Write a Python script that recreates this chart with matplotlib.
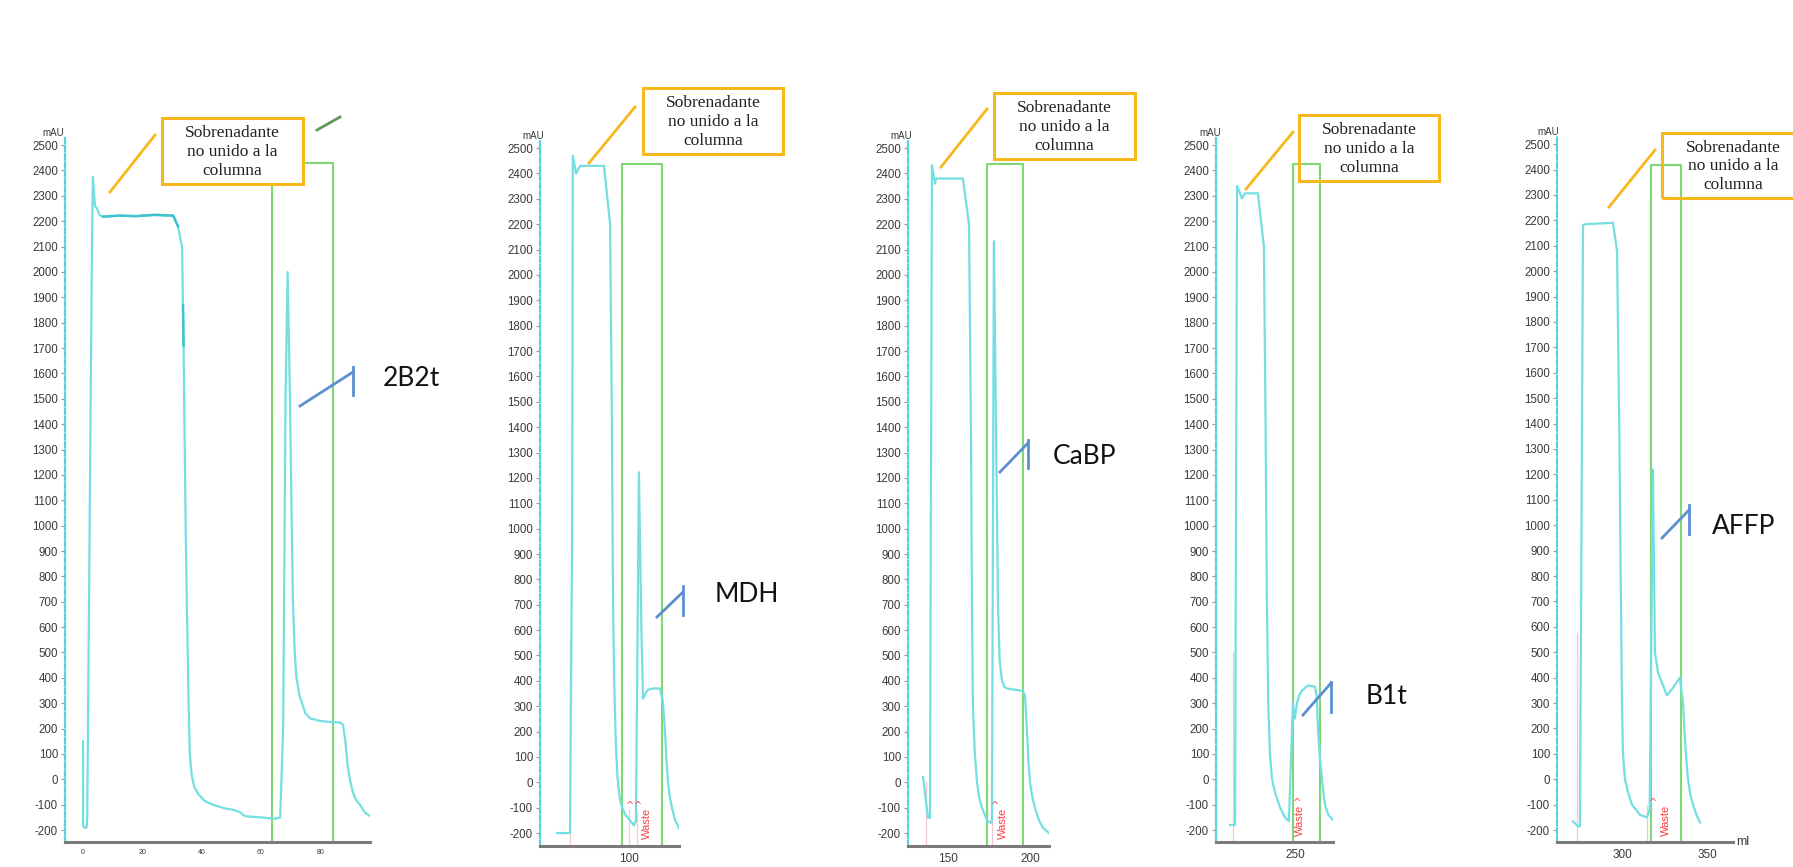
import matplotlib
matplotlib.use("Agg")
import matplotlib.pyplot as plt
from matplotlib.patches import Rectangle
from matplotlib.lines import Line2D

# ---------------- data: UV 280 nm traces (ml, mAU) ----------------
p1_ml = [0, 0, 0.3, 1.2, 1.4, 2.0, 3.0, 3.3, 4.0, 4.7,
         5.5, 6.7, 12, 18, 24, 30.4, 32.0, 33.0, 33.4, 33.7,
         33.9, 34.2, 34.6, 35.0, 35.6, 36.0, 36.6, 37.5, 39.0, 41.0,
         43.8, 48.0, 50.6, 53.0, 54.6, 59.7, 64.7, 66.5, 67.5, 68.3,
         69.0, 69.8, 70.4, 70.8, 71.4, 72.0, 73.0, 73.9, 75.0, 76.6,
         80.0, 84.3, 86.0, 87.0, 87.7, 88.5, 89.2, 90.0, 91.0, 92.0,
         93.4, 95.0, 96.8]
p1_mau = [150, -180, -190, -190, -150, 700, 2100, 2374, 2260, 2250,
          2225, 2218, 2222, 2220, 2225, 2222, 2180, 2120, 2100, 1870,
          1710, 1400, 1000, 700, 300, 100, 20, -30, -60, -85,
          -100, -115, -120, -130, -145, -150, -155, -150, 200, 1500,
          2000, 1500, 1000, 700, 500, 400, 330, 300, 260, 240,
          230, 225, 225, 222, 215, 150, 60, 0, -50, -80,
          -100, -130, -145]
p1_frac = (63.7, 84.3)

p2_ml = [56.4, 64.2, 65.5, 65.9, 67.9, 70.3, 84.8, 88.5, 89.5, 90.3,
         91.0, 92.0, 93.0, 94.3, 95.8, 98.0, 100.6, 103.0, 104.2, 106.0,
         107.5, 108.5, 110.0, 111.5, 114.5, 118.8, 120.5, 121.8, 122.7, 123.6,
         124.8, 126.0, 128.0, 130.3]
p2_mau = [-200, -200, 1000, 2470, 2400, 2430, 2430, 2200, 1500, 700,
          400, 150, 20, -60, -100, -130, -150, -170, -150, 1222,
          600, 330, 350, 365, 370, 370, 320, 200, 90, 0,
          -60, -100, -150, -180]
p2_frac = (95.8, 120.0)

p3_ml = [134.8, 137.8, 139.0, 140.2, 142.0, 142.7, 159.1, 162.8, 164.0, 164.6,
         165.2, 166.3, 167.7, 169.0, 170.7, 173.8, 176.2, 176.8, 178.0, 180.5,
         181.5, 182.9, 184.5, 186.0, 195.7, 197.0, 198.2, 199.0, 200.0, 201.5,
         203.0, 205.5, 208.0, 211.6]
p3_mau = [20, -140, -140, 2433, 2360, 2380, 2380, 2200, 1400, 700,
          300, 120, 0, -60, -100, -150, -160, -150, 2133, 700,
          480, 400, 375, 370, 360, 340, 200, 90, 0, -60,
          -100, -150, -180, -200]
p3_frac = (173.8, 195.7)

p4_ml = [211.1, 214.1, 215.3, 218.3, 220.1, 227.8, 231.4, 232.4, 233.2, 234.0,
         235.0, 236.3, 238.0, 241.0, 244.0, 246.4, 248.8, 250.0, 251.2, 252.5,
         254.2, 257.8, 262.0, 263.0, 263.8, 265.0, 266.2, 267.0, 268.0, 270.0,
         272.8]
p4_mau = [-180, -180, 2338, 2290, 2310, 2310, 2100, 1400, 700, 300,
          100, 0, -50, -110, -150, -165, 300, 240, 300, 330,
          350, 370, 365, 330, 200, 80, 0, -50, -100, -140,
          -160]
p4_frac = (248.8, 265.0)

p5_ml = [271.2, 274.1, 275.3, 277.1, 278.5, 294.7, 297.1, 298.4, 299.4, 300.0,
         300.6, 301.8, 303.5, 305.9, 310.6, 314.7, 316.3, 318.2, 319.4, 321.2,
         323.5, 326.5, 330.0, 334.1, 335.9, 337.4, 338.8, 340.2, 341.8, 343.8,
         345.9]
p5_mau = [-166, -185, -185, 2181, 2185, 2190, 2080, 1400, 700, 300,
          100, 0, -50, -100, -140, -150, -120, 1219, 500, 420,
          380, 330, 360, 400, 300, 120, 0, -60, -100, -140,
          -170]
p5_frac = (317.1, 334.7)

y_ticks = list(range(-200, 2501, 100))
x_ticks = [[0, 20, 40, 60, 80], [100], [150, 200], [250], [300, 350]]
protein_labels = ["2B2t", "MDH", "CaBP", "B1t", "AFFP"]
flowthrough_text = "Sobrenadante\nno unido a la\ncolumna"

# ---------------- figure ----------------
W, H = 1793, 867
fig = plt.figure(figsize=(W / 100, H / 100), dpi=100)
fig.patch.set_facecolor("white")


def fx(x):
    return x / W


def fy(y):
    return 1 - y / H


TRACE = "#74dfe2"
TRACE_DARK = "#3fc3cf"
FRAC = "#7fd873"
PINK = "#f6c6cf"
RED = "#ff3d3d"
BOX = "#f6b81c"
CALL = "#5b8fcf"

# per panel: pixel box (x0, x1, ytop, ybot), x limits, y limits
panels = [
    dict(px=(65, 370, 138, 842), xlim=(-6.1, 96.8), ylim=(-247, 2528),
         ml=p1_ml, mau=p1_mau, frac=p1_frac, top=2430, ticks=x_ticks[0], tsize=5),
    dict(px=(540, 679, 141, 846), xlim=(46.0, 130.3), ylim=(-251, 2528),
         ml=p2_ml, mau=p2_mau, frac=p2_frac, top=2437, ticks=x_ticks[1], tsize=8.5),
    dict(px=(908, 1049, 141, 846), xlim=(125.6, 211.6), ylim=(-251, 2528),
         ml=p3_ml, mau=p3_mau, frac=p3_frac, top=2437, ticks=x_ticks[2], tsize=8.5),
    dict(px=(1216, 1333, 138, 842), xlim=(202.7, 272.8), ylim=(-247, 2528),
         ml=p4_ml, mau=p4_mau, frac=p4_frac, top=2425, ticks=x_ticks[3], tsize=8.5),
    dict(px=(1557, 1733, 137, 842), xlim=(261.8, 365.3), ylim=(-247, 2528),
         ml=p5_ml, mau=p5_mau, frac=p5_frac, top=2417, ticks=x_ticks[4], tsize=8.5),
]

axes = []
for i, p in enumerate(panels):
    x0, x1, yt, yb = p["px"]
    ax = fig.add_axes([fx(x0), fy(yb), (x1 - x0) / W, (yb - yt) / H])
    ax.set_xlim(*p["xlim"])
    ax.set_ylim(*p["ylim"])
    ax.patch.set_alpha(0)
    for s in ("top", "right"):
        ax.spines[s].set_visible(False)
    ax.spines["left"].set_color("#52d3dd")
    ax.spines["left"].set_linestyle((0, (2.5, 1.2)))
    ax.spines["left"].set_linewidth(1.6)
    ax.spines["bottom"].set_color("#7a7a7a")
    ax.spines["bottom"].set_linewidth(2.2)
    ax.set_yticks(y_ticks)
    ax.set_yticklabels([str(v) for v in y_ticks])
    ax.tick_params(axis="y", length=3, width=0.8, color="#999999", pad=2,
                   labelsize=8.3, labelcolor="#3a3a3a")
    ax.set_xticks(p["ticks"])
    ax.tick_params(axis="x", length=0, pad=5, labelsize=p["tsize"], labelcolor="#3a3a3a")
    for lab in ax.get_yticklabels() + ax.get_xticklabels():
        lab.set_fontfamily("Liberation Sans")
    ax.text(-0.05 if i else -0.04, 1.0, "mAU", transform=ax.transAxes, ha="center",
            va="bottom", fontsize=7, color="#3a3a3a", family="Liberation Sans")

    # fraction window
    a, b = p["frac"]
    yb0 = p["ylim"][0]
    ax.plot([a, a, b, b], [yb0, p["top"], p["top"], yb0], color=FRAC, lw=1.5,
            clip_on=False, zorder=2)
    # UV trace
    ax.plot(p["ml"], p["mau"], color=TRACE, lw=1.6, zorder=3, solid_joinstyle="round")
    axes.append(ax)

# darker plateau of the first run
ax1 = axes[0]
ax1.plot(p1_ml[11:17], p1_mau[11:17], color=TRACE_DARK, lw=1.8, zorder=4)
ax1.plot(p1_ml[19:21], p1_mau[19:21], color=TRACE_DARK, lw=1.8, zorder=4)

# faint injection / fraction marks
pink_marks = {1: [(64.0, -251, 570), (100.0, -251, -110), (104.8, -251, -120)],
              2: [(136.6, -251, 0), (176.8, -251, -110)],
              3: [(212.9, -247, 500)],
              4: [(273.5, -247, 577), (314.7, -247, -100)]}
for i, marks in pink_marks.items():
    for xm, y0, y1 in marks:
        axes[i].plot([xm, xm], [y0, y1], color=PINK, lw=0.9, zorder=1)

# waste markers
waste = {1: ([100.5, 105.7], 111.0), 2: ([178.5], 183.5), 3: ([251.5], 253.0),
         4: ([318.5], 326.0)}
for i, (carets, wx) in waste.items():
    ax = axes[i]
    for c in carets:
        ax.text(c, -95, "^", color=RED, fontsize=7, ha="center", va="center",
                family="DejaVu Sans")
    ax.text(wx, -225, "Waste", color=RED, fontsize=8, rotation=90, ha="center",
            va="bottom", family="Liberation Sans")

# volume unit on last panel
axes[4].text(1.02, 0.0, "ml", transform=axes[4].transAxes, ha="left", va="center",
             fontsize=9, color="#3a3a3a", family="Liberation Sans")

# ---------------- flow-through callouts ----------------
boxes = [(162, 303, 118, 184, (110, 192), (155, 135), True),
         (643, 783, 88, 154, (589, 163), (635, 107), True),
         (994, 1135, 93, 159, (941, 167), (987, 109), True),
         (1299, 1439, 115, 181, (1246, 189), (1293, 132), False),
         (1662, 1803, 133, 198, (1609, 207), (1655, 150), False)]
for bx0, bx1, by0, by1, pa, pb, opaque in boxes:
    fig.add_artist(Rectangle((fx(bx0), fy(by1)), (bx1 - bx0) / W, (by1 - by0) / H,
                             transform=fig.transFigure,
                             facecolor="white" if opaque else "none",
                             edgecolor=BOX, lw=2.2, zorder=10))
    cx = (bx0 + bx1) / 2 if bx1 < W else 1733
    fig.text(fx(cx), fy((by0 + by1) / 2 + 1), flowthrough_text, ha="center",
             va="center", fontsize=12.5, family="Liberation Serif", color="#222222",
             linespacing=1.22, zorder=11)
    fig.add_artist(Line2D([fx(pa[0]), fx(pb[0])], [fy(pa[1]), fy(pb[1])],
                          transform=fig.transFigure, color=BOX, lw=2.0, zorder=9))

# stray green stroke near the first panel
fig.add_artist(Line2D([fx(317), fx(340)], [fy(130), fy(117)], transform=fig.transFigure,
                      color="#5f9a55", lw=2.0))

# ---------------- protein callouts ----------------
callouts = [((300, 406), (353, 372), (353, 367, 395), (383, 378)),
            ((657, 617), (683, 592), (683, 586, 615), (715, 594)),
            ((1000, 472), (1028, 443), (1028, 440, 468), (1053, 457)),
            ((1303, 715), (1331, 683), (1331, 682, 712), (1366, 697)),
            ((1662, 538), (1689, 510), (1689, 505, 534), (1712, 526))]
for (a, b, v, t), name in zip(callouts, protein_labels):
    fig.add_artist(Line2D([fx(a[0]), fx(b[0])], [fy(a[1]), fy(b[1])],
                          transform=fig.transFigure, color=CALL, lw=2.0, zorder=9))
    fig.add_artist(Line2D([fx(v[0]), fx(v[0])], [fy(v[1]), fy(v[2])],
                          transform=fig.transFigure, color=CALL, lw=2.0, zorder=9))
    fig.text(fx(t[0]), fy(t[1]), name, ha="left", va="center", fontsize=19,
             family="Lato", color="#111111", zorder=11)

fig.savefig("out.png", dpi=100, facecolor="white")
